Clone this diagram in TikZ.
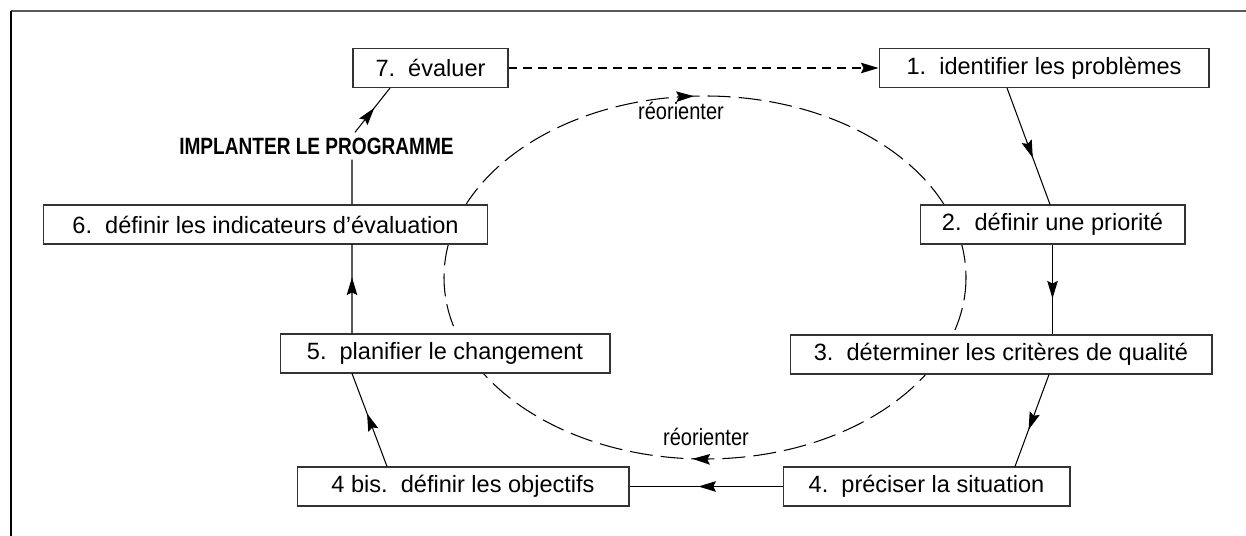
\documentclass[tikz,border=0pt]{standalone}
\usepackage{fontspec}
\setmainfont{Liberation Sans}
\newfontfamily\narrowfont{Liberation Sans}[FakeStretch=0.85]
\newfontfamily\narrowbold{Liberation Sans Bold}[FakeStretch=0.81]
\usetikzlibrary{arrows.meta,positioning,decorations.markings}

\begin{document}
\begin{tikzpicture}[x=0.02cm, y=-0.02cm,
  every node/.style={font=\fontsize{13.4pt}{16pt}\selectfont},
  narrow/.style={font=\narrowfont\fontsize{13.4pt}{16pt}\selectfont},
  stage/.style={draw=black!80, line width=0.6pt, fill=white, minimum height=0.78cm, inner sep=0pt},
  link/.style={line width=0.6pt},
  midarrow/.style={postaction={decorate}, decoration={markings,
    mark=at position #1 with {\arrow{Stealth[length=10pt,width=6pt,inset=1.5pt]}}}},
  midarrow/.default=0.6]
  \useasboundingbox (0,0) rectangle (1246,536);

  % frame (top and left only)
  \draw[gray!70!black, line width=0.8pt] (11,11) -- (1246,11);
  \draw[line width=0.8pt] (11,11) -- (11,536);

  % reorientation loop
  \draw[line width=0.6pt, dash pattern=on 0.46cm off 0.16cm,
    postaction={decorate}, decoration={markings,
      mark=at position 0.259 with {\arrow{Stealth[length=10pt,width=6pt,inset=1.5pt]}},
      mark=at position 0.742 with {\arrow{Stealth[length=10pt,width=6pt,inset=1.5pt]}}}]
    (705,277.5) ellipse [x radius=261, y radius=181.5];
  \node[narrow] (reoTop) at (681,111) {réorienter};
  \node[narrow] (reoBot) at (706,437) {réorienter};

  % stages
  \node[stage, minimum width=3.1cm]  (b7)   at (430.5,68)  {7.~~évaluer};
  \node[stage, minimum width=6.6cm]  (b1)   at (1044,68)   {1.~~identifier les problèmes};
  \node[stage, minimum width=5.3cm]  (b2)   at (1052.5,224.5) {2.~~définir une priorité};
  \node[stage, minimum width=8.44cm] (b3)   at (1001,354.5) {3.~~déterminer les critères de qualité};
  \node[stage, minimum width=5.74cm] (b4)   at (926.5,486.5) {4.~~préciser la situation};
  \node[stage, minimum width=6.64cm] (b4bis) at (463,486.5) {4 bis.~~définir les objectifs};
  \node[stage, minimum width=6.6cm]  (b5)   at (445,353.5)  {5.~~planifier le changement};
  \node[stage, minimum width=8.9cm]  (b6)   at (265.5,224.5) {6.~~définir les indicateurs d’évaluation};
  \node[font=\narrowbold\fontsize{13.4pt}{16pt}\selectfont, inner sep=0.1cm] (impl) at (316.5,146) {IMPLANTER LE PROGRAMME};

  % cycle
  \draw[link, midarrow] ([xshift=-0.74cm]b1.south) -- ([xshift=-0.05cm]b2.north);
  \draw[link, midarrow] (b2.south) -- (b2.south |- b3.north);
  \draw[link, midarrow] ([xshift=0.96cm]b3.south) -- ([xshift=1.77cm]b4.north);
  \draw[link, midarrow=0.55] (b4.west) -- (b4bis.east);
  \draw[link, midarrow=0.57] ([xshift=-1.52cm]b4bis.north) -- ([xshift=-1.86cm]b5.south);
  \draw[link, midarrow=0.63] ([xshift=-1.86cm]b5.north) -- ([xshift=1.73cm]b6.south);
  \draw[link] ([xshift=1.73cm]b6.north) -- ([xshift=0.71cm]impl.south);
  \draw[link, midarrow=0.55] ([xshift=0.77cm]impl.north) -- ([xshift=-0.81cm]b7.south);
  \draw[link, dash pattern=on 5pt off 3.5pt, -{Stealth[length=10pt,width=6pt,inset=1.5pt]}] (b7.east) -- (b1.west);
\end{tikzpicture}
\end{document}
